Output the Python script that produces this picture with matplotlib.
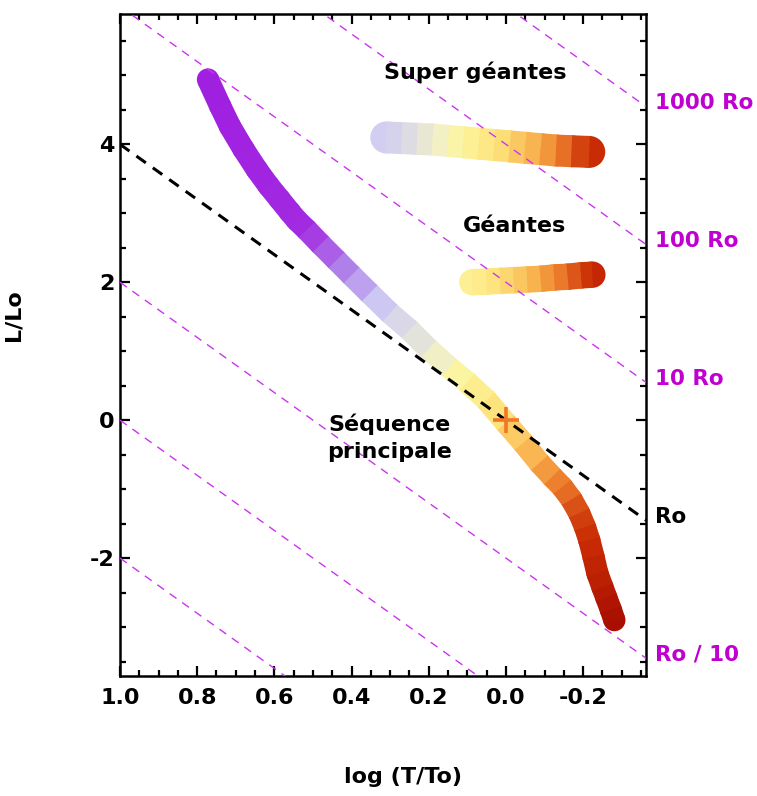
import numpy as np
import matplotlib.pyplot as plt
from matplotlib.collections import LineCollection
from matplotlib.colors import LinearSegmentedColormap, Normalize
from matplotlib.ticker import MultipleLocator, FormatStrFormatter
import matplotlib.transforms as mtransforms

plt.rcParams['font.family'] = ['DejaVu Sans']
plt.rcParams['font.weight'] = 'bold'
plt.rcParams['axes.unicode_minus'] = False

# main sequence track : log(T/To), log(L/Lo)
ms_x = [0.772, 0.740, 0.715, 0.680, 0.645, 0.615, 0.586, 0.560, 0.542, 0.516,
        0.480, 0.439, 0.400, 0.353, 0.300, 0.250, 0.200, 0.146, 0.100, 0.050,
        0.000, -0.045, -0.087, -0.120, -0.146, -0.170, -0.190, -0.205, -0.216,
        -0.227, -0.237, -0.250, -0.260, -0.272, -0.281]
ms_y = [4.94, 4.55, 4.26, 3.93, 3.63, 3.40, 3.20, 3.02, 2.90, 2.76,
        2.55, 2.32, 2.10, 1.84, 1.55, 1.31, 1.03, 0.76, 0.55, 0.29,
        -0.04, -0.33, -0.62, -0.82, -0.97, -1.15, -1.35, -1.55, -1.74,
        -1.98, -2.22, -2.42, -2.57, -2.75, -2.90]

# super giants
sg_x = [0.310, 0.270, 0.230, 0.190, 0.150, 0.110, 0.070, 0.030, -0.010,
        -0.050, -0.090, -0.130, -0.170, -0.216]
sg_y = [4.10, 4.09, 4.08, 4.07, 4.05, 4.03, 4.01, 3.99, 3.97,
        3.95, 3.93, 3.91, 3.90, 3.89]

# giants
g_x = [0.087, 0.050, 0.015, -0.020, -0.055, -0.090, -0.125, -0.160, -0.195, -0.224]
g_y = [2.00, 2.01, 2.02, 2.03, 2.04, 2.05, 2.07, 2.08, 2.10, 2.11]

# radius lines : log L = 4 log T + 2 log R
r_offsets = [-6, -4, -2, 2, 4, 6]
r_labels = {6: '1000 Ro', 4: '100 Ro', 2: '10 Ro', -2: 'Ro / 10'}

# colour versus temperature
temp_pts = [-0.30, -0.22, -0.15, -0.08, 0.02, 0.12, 0.17, 0.23, 0.32, 0.42, 0.52, 0.80]
temp_cols = ['#a00800', '#c82a04', '#ea7428', '#f8b04c', '#fde27a', '#fcf5a0',
             '#f2f0c4', '#e2e2dc', '#cfcbf4', '#b080ea', '#a22ae0', '#a01ee0']

xmin, xmax = 1.0, -0.363
ymin, ymax = -3.71, 5.89

tnorm = Normalize(temp_pts[0], temp_pts[-1])
cmap = LinearSegmentedColormap.from_list('temp', list(zip([tnorm(v) for v in temp_pts], temp_cols)))


def band(ax, xs, ys, lw):
    xs = np.array(xs)
    ys = np.array(ys)
    # discs at every point fill the joints, segments on top give the gradient
    ax.scatter(xs, ys, s=lw**2, c=cmap(tnorm(xs)), linewidths=0, zorder=2)
    pts = np.column_stack([xs, ys])
    segs = np.stack([pts[:-1], pts[1:]], axis=1)
    mid = (xs[:-1] + xs[1:]) / 2
    lc = LineCollection(segs, colors=cmap(tnorm(mid)), linewidths=lw,
                        capstyle='butt', joinstyle='round', zorder=2.1)
    ax.add_collection(lc)


fig = plt.figure(figsize=(7.57, 7.96), dpi=100)
ax = fig.add_axes([120/757, 1-676/796, 526/757, 662/796])

band(ax, ms_x, ms_y, 16)
band(ax, sg_x, sg_y, 23)
band(ax, g_x, g_y, 19)

xl = np.array([xmin, xmax])
for c in r_offsets:
    ax.plot(xl, 4*xl + c, color='#cc33ee', lw=1, dashes=(6, 5), zorder=3)
ax.plot(xl, 4*xl, color='black', lw=2.2, dashes=(3.8, 2.8), zorder=3)

ax.plot(0, 0, marker='+', ms=19, mew=2.6, color='#f07828', zorder=4)

trans = mtransforms.blended_transform_factory(ax.transAxes, ax.transData)
for c, lab in r_labels.items():
    ax.text(1.017, 4*xmax + c + 0.05, lab, transform=trans, color='#c000d0',
            fontsize=15.5, fontweight='bold', va='center', ha='left')
ax.text(1.017, 4*xmax + 0.05, 'Ro', transform=trans, color='black',
        fontsize=15.5, fontweight='bold', va='center', ha='left')

ax.text(0.079, 5.04, 'Super géantes', fontsize=16, fontweight='bold', ha='center', va='center')
ax.text(-0.022, 2.82, 'Géantes', fontsize=16, fontweight='bold', ha='center', va='center')
ax.text(0.301, -0.26, 'Séquence\nprincipale', fontsize=16, fontweight='bold',
        ha='center', va='center', linespacing=1.45)

ax.set_xlim(xmin, xmax)
ax.set_ylim(ymin, ymax)
ax.xaxis.set_major_locator(MultipleLocator(0.2))
ax.xaxis.set_minor_locator(MultipleLocator(0.05))
ax.xaxis.set_major_formatter(FormatStrFormatter('%.1f'))
ax.yaxis.set_major_locator(MultipleLocator(2))
ax.yaxis.set_minor_locator(MultipleLocator(0.5))
ax.yaxis.set_major_formatter(FormatStrFormatter('%d'))
ax.tick_params(which='both', direction='in', top=True, right=True, width=1.6)
ax.tick_params(which='major', length=7.5, labelsize=16)
ax.tick_params(which='minor', length=4)
ax.tick_params(axis='x', pad=9)
ax.tick_params(axis='y', pad=4)
for lab in ax.get_xticklabels() + ax.get_yticklabels():
    lab.set_fontweight('bold')
for s in ax.spines.values():
    s.set_linewidth(1.8)

ax.set_xlabel('log (T/To)', fontsize=16, fontweight='bold')
ax.set_ylabel('L/Lo', fontsize=16, fontweight='bold')
ax.xaxis.set_label_coords(0.538, -0.137)
ax.yaxis.set_label_coords(-0.184, 0.545)

fig.savefig('out.png', dpi=100)
